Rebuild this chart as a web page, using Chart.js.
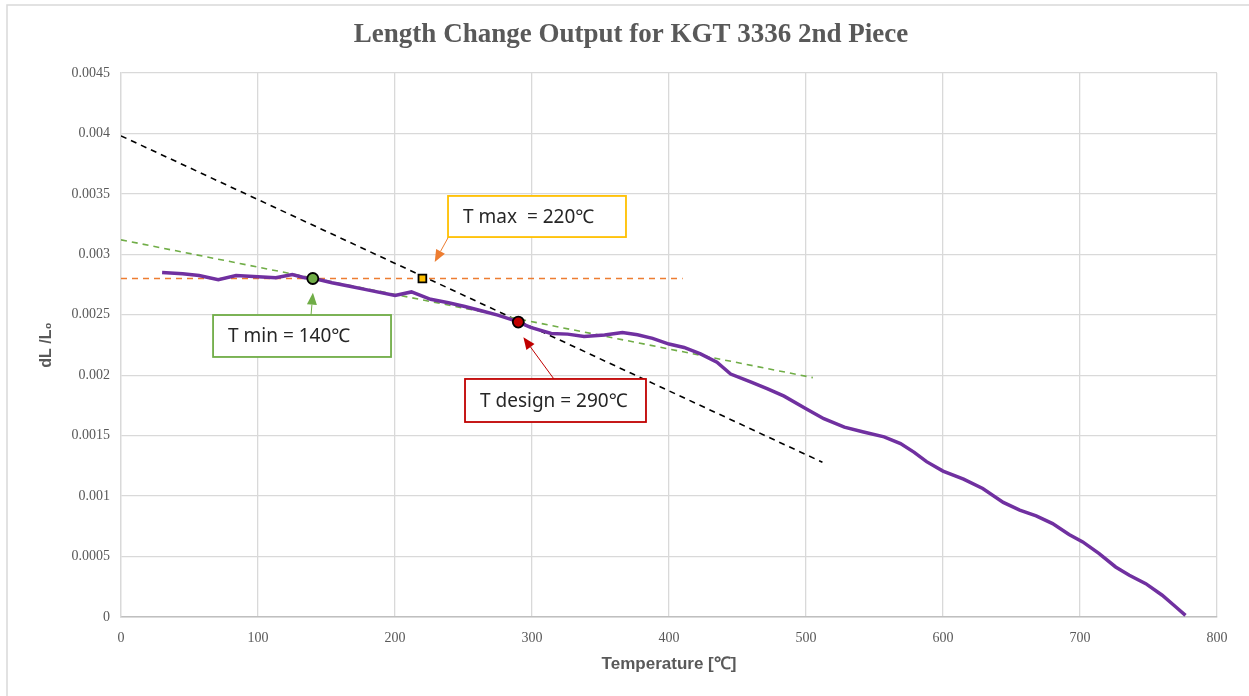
<!DOCTYPE html>
<html>
<head>
<meta charset="utf-8">
<title>Length Change Output</title>
<script src="https://cdn.jsdelivr.net/npm/chart.js@4/dist/chart.umd.min.js"></script>
<style>
  html, body { margin: 0; padding: 0; background: #fff; }
  #wrap { width: 1249px; height: 696px; position: relative; }
</style>
</head>
<body>
<div id="wrap"><canvas id="myChart" width="1249" height="696"></canvas></div>
<script>
const temps = [30, 45, 57, 71, 84, 100, 113, 125, 134, 141, 154, 166, 178, 200, 212, 226, 239, 251, 263, 275,
  288, 299, 314, 326, 338, 353, 366, 377, 388, 400, 411, 423, 435, 445, 460, 472, 484, 500, 513, 528,
  542, 557, 569, 579, 588, 600, 615, 629, 644, 656, 668, 680, 692, 702, 714, 726, 736, 748, 760, 770, 777]
const dlValues = [0.00285, 0.00284, 0.002825, 0.00279, 0.002825, 0.002814, 0.002806, 0.002833, 0.002806, 0.0028,
  0.002765, 0.002738, 0.00271, 0.00266, 0.002689, 0.002628, 0.0026, 0.002568, 0.002533, 0.002497,
  0.00245, 0.002396, 0.002346, 0.00234, 0.002321, 0.002332, 0.002354, 0.002335, 0.002305, 0.002258,
  0.00223, 0.002176, 0.002107, 0.00201, 0.001942, 0.001887, 0.001827, 0.001723, 0.00164, 0.001571,
  0.00153, 0.00149, 0.001434, 0.001362, 0.001285, 0.001207, 0.001141, 0.001063, 0.000948, 0.000884,
  0.000837, 0.000773, 0.000682, 0.000621, 0.000525, 0.000414, 0.000345, 0.000276, 0.00018, 0.000083, 0.000014]

// Dashed helper lines (end points)
const maxLineT = [0, 410]
const maxLineV = [0.0028, 0.0028]
const minLineT = [0, 505]
const minLineV = [0.00312, 0.00198]
const designLineT = [0, 512]
const designLineV = [0.00398, 0.00128]

// Marked points
const tMin = [140, 0.0028]
const tMax = [220, 0.0028]
const tDesign = [290, 0.00244]

// Axis ticks
const xTicks = [0, 100, 200, 300, 400, 500, 600, 700, 800]
const yTicks = [0, 0.0005, 0.001, 0.0015, 0.002, 0.0025, 0.003, 0.0035, 0.004, 0.0045]

const chartTitle = 'Length Change Output for KGT 3336 2nd Piece'
const labelTexts = ['T max  = 220\u2103', 'T min = 140\u2103', 'T design = 290\u2103']

const toPoints = (xs, ys) => xs.map((x, i) => ({ x: x, y: ys[i] }))

// Text boxes, in data units: box corners, arrow start and tip
const notes = [
  { text: labelTexts[0], color: '#FFC000', arrow: '#ED7D31', box: [238.7, 0.003483, 368.6, 0.003143], from: [239, 0.003143], to: [229, 0.002937] },
  { text: labelTexts[1], color: '#70AD47', arrow: '#70AD47', box: [67.2, 0.002498, 197.1, 0.002151], from: [138.7, 0.002498], to: [140.1, 0.002683] },
  { text: labelTexts[2], color: '#C00000', arrow: '#C00000', box: [251.1, 0.001969, 383.2, 0.001613], from: [316, 0.001969], to: [293.7, 0.002314] }
]

/**
 * Draw an arrow with a filled head.
 *
 * @param {CanvasRenderingContext2D} ctx - Context.
 * @param {number} x1 - Start x.
 * @param {number} y1 - Start y.
 * @param {number} x2 - Tip x.
 * @param {number} y2 - Tip y.
 * @param {string} color - Colour.
 */
function drawArrow (ctx, x1, y1, x2, y2, color) {
  const angle = Math.atan2(y2 - y1, x2 - x1)
  const len = 12
  const half = 5
  ctx.strokeStyle = color
  ctx.fillStyle = color
  ctx.lineWidth = 1
  ctx.beginPath()
  ctx.moveTo(x1, y1)
  ctx.lineTo(x2 - Math.cos(angle) * len, y2 - Math.sin(angle) * len)
  ctx.stroke()
  ctx.beginPath()
  ctx.moveTo(x2, y2)
  ctx.lineTo(x2 - Math.cos(angle) * len - Math.sin(angle) * half, y2 - Math.sin(angle) * len + Math.cos(angle) * half)
  ctx.lineTo(x2 - Math.cos(angle) * len + Math.sin(angle) * half, y2 - Math.sin(angle) * len - Math.cos(angle) * half)
  ctx.closePath()
  ctx.fill()
}

const notesPlugin = {
  id: 'notes',
  beforeDraw (chart) {
    const ctx = chart.ctx
    ctx.save()
    ctx.fillStyle = '#ffffff'
    ctx.fillRect(0, 0, chart.width, chart.height)
    // outer frame (top and left edge visible)
    ctx.strokeStyle = '#D9D9D9'
    ctx.lineWidth = 1.5
    ctx.beginPath()
    ctx.moveTo(7, chart.height)
    ctx.lineTo(7, 5)
    ctx.lineTo(chart.width, 5)
    ctx.stroke()
    // title
    ctx.fillStyle = '#595959'
    ctx.font = 'bold 27px "Liberation Serif", serif'
    ctx.textAlign = 'center'
    ctx.textBaseline = 'middle'
    ctx.fillText(chartTitle, 631, 35)
    ctx.restore()
  },
  afterDatasetsDraw (chart) {
    const ctx = chart.ctx
    const xs = chart.scales.x
    const ys = chart.scales.y
    ctx.save()
    notes.forEach(n => {
      const fx = xs.getPixelForValue(n.from[0])
      const fy = ys.getPixelForValue(n.from[1])
      const tx = xs.getPixelForValue(n.to[0])
      const ty = ys.getPixelForValue(n.to[1])
      drawArrow(ctx, fx, fy, tx, ty, n.arrow)
      const left = xs.getPixelForValue(n.box[0])
      const top = ys.getPixelForValue(n.box[1])
      const right = xs.getPixelForValue(n.box[2])
      const bottom = ys.getPixelForValue(n.box[3])
      ctx.fillStyle = '#ffffff'
      ctx.fillRect(left, top, right - left, bottom - top)
      ctx.strokeStyle = n.color
      ctx.lineWidth = 1.8
      ctx.strokeRect(left, top, right - left, bottom - top)
      ctx.fillStyle = '#262626'
      ctx.font = '19px "Noto Sans", "DejaVu Sans", sans-serif'
      ctx.textBaseline = 'middle'
      ctx.textAlign = 'left'
      ctx.fillText(n.text, left + 15, (top + bottom) / 2 + 1)
    })
    ctx.restore()
  }
}

const dashed = (data, color) => ({
  data: data,
  showLine: true,
  borderColor: color,
  borderWidth: 1.6,
  borderDash: [6, 5],
  pointRadius: 0,
  fill: false
})

const marker = (pt, fill, style) => ({
  data: [{ x: pt[0], y: pt[1] }],
  showLine: false,
  pointStyle: style,
  pointRadius: 5.5,
  pointBackgroundColor: fill,
  pointBorderColor: '#000000',
  pointBorderWidth: 1.8
})

const ctx = document.getElementById('myChart').getContext('2d')

new Chart(ctx, {
  type: 'scatter',
  data: {
    datasets: [
      marker(tMin, '#70AD47', 'circle'),
      marker(tMax, '#FFC000', 'rect'),
      marker(tDesign, '#C00000', 'circle'),
      {
        data: toPoints(temps, dlValues),
        showLine: true,
        borderColor: '#7030A0',
        borderWidth: 3.5,
        pointRadius: 0,
        tension: 0,
        fill: false
      },
      dashed(toPoints(maxLineT, maxLineV), '#ED7D31'),
      dashed(toPoints(minLineT, minLineV), '#70AD47'),
      dashed(toPoints(designLineT, designLineV), '#000000')
    ]
  },
  options: {
    responsive: false,
    animation: false,
    events: [],
    layout: { padding: { left: 0, right: 32, top: 73, bottom: 0 } },
    scales: {
      x: {
        type: 'linear',
        min: xTicks[0],
        max: xTicks[xTicks.length - 1],
        afterFit (scale) { scale.height = 79 },
        afterBuildTicks (scale) { scale.ticks = xTicks.map(v => ({ value: v })) },
        ticks: {
          padding: 13,
          color: '#595959',
          font: { family: '"Liberation Serif", serif', size: 14 }
        },
        grid: { color: '#D9D9D9', lineWidth: 1.3, drawTicks: false },
        border: { color: '#BFBFBF', width: 1.5 },
        title: {
          display: true,
          text: 'Temperature [\u2103]',
          color: '#595959',
          font: { family: '"Liberation Sans", sans-serif', size: 17, weight: 'bold' },
          padding: { top: 0, bottom: 21 }
        }
      },
      y: {
        type: 'linear',
        min: yTicks[0],
        max: yTicks[yTicks.length - 1],
        afterFit (scale) { scale.width = 121 },
        afterBuildTicks (scale) { scale.ticks = yTicks.map(v => ({ value: v })) },
        ticks: {
          padding: 11,
          color: '#595959',
          font: { family: '"Liberation Serif", serif', size: 14 },
          callback: v => String(Number(v.toFixed(4)))
        },
        grid: { color: '#D9D9D9', lineWidth: 1.3, drawTicks: false },
        border: { color: '#D9D9D9', width: 1.3 },
        title: {
          display: true,
          text: 'dL /L\u2080',
          color: '#595959',
          font: { family: '"Liberation Sans", sans-serif', size: 16, weight: 'bold' },
          padding: { top: 37, bottom: 0 }
        }
      }
    },
    plugins: {
      legend: { display: false },
      tooltip: { enabled: false },
      title: { display: false }
    }
  },
  plugins: [notesPlugin]
})
</script>
</body>
</html>
